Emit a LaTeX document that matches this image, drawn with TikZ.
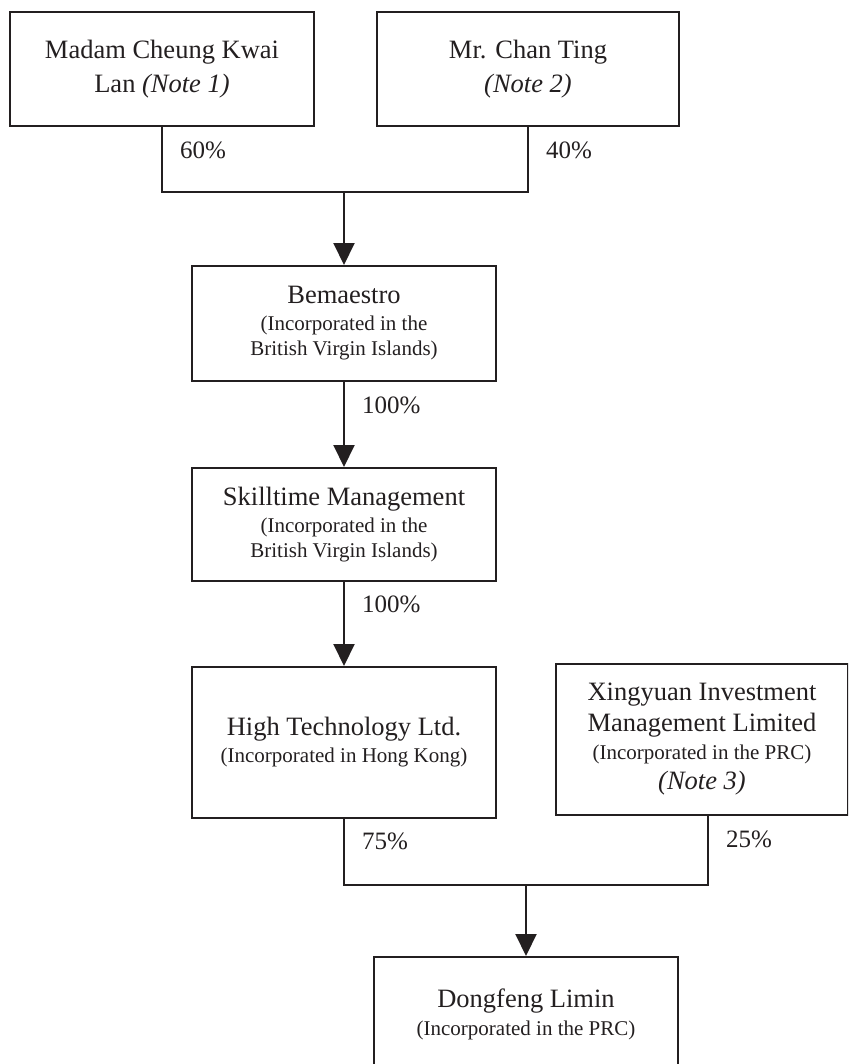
\documentclass[tikz,border=0pt]{standalone}
\usepackage{fontspec}
\setmainfont{Liberation Serif}
\usetikzlibrary{positioning, arrows.meta}
\definecolor{ink}{RGB}{35,31,32}
\newcommand{\incline}{\fontsize{10.5}{12.5}\selectfont} % smaller line for the place of incorporation
\tikzset{
	company/.style={draw=ink, line width=1pt, text=ink, minimum width=152pt, align=center, inner sep=0pt, font=\fontsize{13.25}{16}\selectfont}, % one box per holder
	link/.style={draw=ink, line width=1pt},
	owns/.style={link, -{Triangle[width=10.5pt, length=11pt]}}, % arrow into the held company
	share/.style={anchor=west, inner sep=0pt, xshift=8.5pt, text=ink, font=\fontsize{12.5}{15}\selectfont}, % percentage beside a line
}
\begin{document}
\begin{tikzpicture}[x=0.5pt, y=-0.5pt]
			\useasboundingbox (0,0) rectangle (848,1064);
			\clip (0,0) rectangle (848,1064);

			\node[company, minimum height=57pt] (cheung) at (162,69) {Madam Cheung Kwai\\[1pt]Lan \textit{(Note 1)}};
			\node[company, minimum width=151pt, minimum height=57pt, right=30.5pt of cheung] (chan) {Mr. Chan Ting\\[1pt]\textit{(Note 2)}};
			\coordinate (top) at (344,192);
			\node[company, minimum height=57.5pt] (bemaestro) at (344,323.5) {Bemaestro\\[-2.5pt]{\incline (Incorporated in the}\\[-3.5pt]{\incline British Virgin Islands)}};
			\node[company, minimum height=56.5pt, below=42.5pt of bemaestro] (skilltime) {Skilltime Management\\[-2.5pt]{\incline (Incorporated in the}\\[-3.5pt]{\incline British Virgin Islands)}};
			\node[company, minimum height=75.5pt, below=42pt of skilltime] (hightech) {High Technology Ltd.\\[-2.5pt]{\incline (Incorporated in Hong Kong)}};
			\node[company, minimum width=146pt, minimum height=75.5pt, anchor=north west] (xingyuan) at (555,663) {Xingyuan Investment\\[-0.5pt]Management Limited\\[-2pt]{\incline (Incorporated in the PRC)}\\[-1pt]\textit{(Note 3)}};
			\coordinate (bottom) at (526,885);
			\node[company, minimum height=57pt, anchor=north] (dongfeng) at (526,956) {Dongfeng Limin\\[-2pt]{\incline (Incorporated in the PRC)}};

			\draw[link] (cheung.south) |- node[share, pos=0.18] {60\%} (top)
				-| node[share, pos=0.82] {40\%} (chan.south);
			\draw[owns] (top) -- (bemaestro);
			\draw[owns] (bemaestro) -- node[share, pos=0.27] {100\%} (skilltime);
			\draw[owns] (skilltime) -- node[share, pos=0.27] {100\%} (hightech);
			\draw[link] (hightech.south) |- node[share, pos=0.17] {75\%} (bottom)
				-| node[share, pos=0.83] {25\%} ([xshift=3pt]xingyuan.south);
			\draw[owns] (bottom) -- (dongfeng);
		\end{tikzpicture}
\end{document}
